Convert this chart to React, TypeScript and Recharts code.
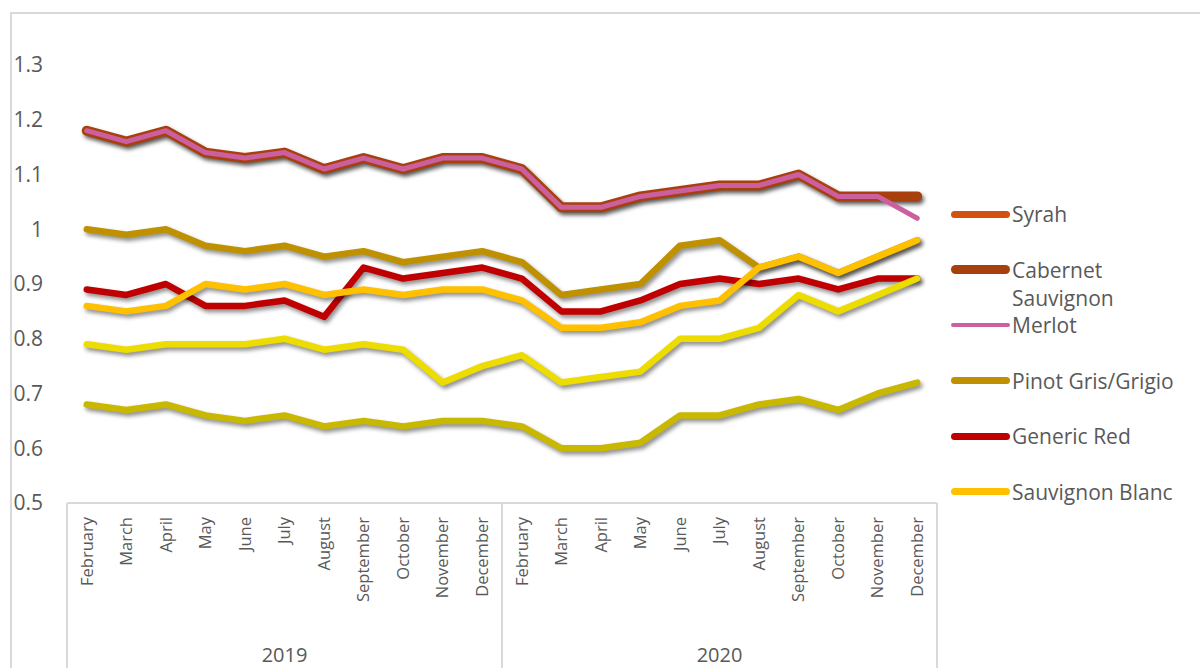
import React from "react";
import { LineChart, Line, XAxis, YAxis } from "recharts";

const months = ["February", "March", "April", "May", "June", "July", "August", "September", "October", "November", "December"];
const years = ["2019", "2020"];
const yTicks = [0.5, 0.6, 0.7, 0.8, 0.9, 1.0, 1.1, 1.2, 1.3];

// values per month, Feb 2019 .. Dec 2020
const syrah = [1.18, 1.16, 1.18, 1.14, 1.13, 1.14, 1.11, 1.13, 1.11, 1.13, 1.13, 1.11, 1.04, 1.04, 1.06, 1.07, 1.08, 1.08, 1.1, 1.06, 1.06, 1.06];
const cabernet = [1.18, 1.16, 1.18, 1.14, 1.13, 1.14, 1.11, 1.13, 1.11, 1.13, 1.13, 1.11, 1.04, 1.04, 1.06, 1.07, 1.08, 1.08, 1.1, 1.06, 1.06, 1.06];
const merlot = [1.18, 1.16, 1.18, 1.14, 1.13, 1.14, 1.11, 1.13, 1.11, 1.13, 1.13, 1.11, 1.04, 1.04, 1.06, 1.07, 1.08, 1.08, 1.1, 1.06, 1.06, 1.02];
const pinotGris = [1.0, 0.99, 1.0, 0.97, 0.96, 0.97, 0.95, 0.96, 0.94, 0.95, 0.96, 0.94, 0.88, 0.89, 0.9, 0.97, 0.98, 0.93, 0.95, 0.92, 0.95, 0.98];
const genericRed = [0.89, 0.88, 0.9, 0.86, 0.86, 0.87, 0.84, 0.93, 0.91, 0.92, 0.93, 0.91, 0.85, 0.85, 0.87, 0.9, 0.91, 0.9, 0.91, 0.89, 0.91, 0.91];
const sauvignonBlanc = [0.86, 0.85, 0.86, 0.9, 0.89, 0.9, 0.88, 0.89, 0.88, 0.89, 0.89, 0.87, 0.82, 0.82, 0.83, 0.86, 0.87, 0.93, 0.95, 0.92, 0.95, 0.98];
const brightYellow = [0.79, 0.78, 0.79, 0.79, 0.79, 0.8, 0.78, 0.79, 0.78, 0.72, 0.75, 0.77, 0.72, 0.73, 0.74, 0.8, 0.8, 0.82, 0.88, 0.85, 0.88, 0.91];
const olive = [0.68, 0.67, 0.68, 0.66, 0.65, 0.66, 0.64, 0.65, 0.64, 0.65, 0.65, 0.64, 0.6, 0.6, 0.61, 0.66, 0.66, 0.68, 0.69, 0.67, 0.7, 0.72];

const series = [
  { key: "syrah", name: "Syrah", values: syrah, color: "#D4500F", width: 6.5, legendWidth: 7, legend: true, shadow: true },
  { key: "cabernet", name: "Cabernet Sauvignon", values: cabernet, color: "#A8400E", width: 10, legendWidth: 9, legend: true, shadow: true },
  { key: "merlot", name: "Merlot", values: merlot, color: "#CC5FA0", width: 5, legendWidth: 4, legend: true, shadow: false },
  { key: "pinot", name: "Pinot Gris/Grigio", values: pinotGris, color: "#BF9000", width: 6.5, legendWidth: 7, legend: true, shadow: true },
  { key: "red", name: "Generic Red", values: genericRed, color: "#C00000", width: 6.5, legendWidth: 7, legend: true, shadow: true },
  { key: "sb", name: "Sauvignon Blanc", values: sauvignonBlanc, color: "#FFC000", width: 6.5, legendWidth: 7, legend: true, shadow: true },
  { key: "yellow", name: "", values: brightYellow, color: "#EDDC00", width: 6.5, legendWidth: 7, legend: false, shadow: true },
  { key: "olive", name: "", values: olive, color: "#C8B800", width: 6.5, legendWidth: 7, legend: false, shadow: true },
];

const data = years.flatMap((year, yi) =>
  months.map((month, mi) => {
    const i = yi * months.length + mi;
    const row: any = { key: `${month} ${year}`, month, year };
    series.forEach((s) => (row[s.key] = s.values[i]));
    return row;
  })
);

const TEXT = "#595959";
const GRID = "#D9D9D9";

const CHART_W = 1200;
const CHART_H = 668;
const MARGIN = { top: 65, right: 263, bottom: 0, left: 10 };
const Y_W = 57;
const X_H = 165;
const PLOT_W = CHART_W - MARGIN.left - MARGIN.right - Y_W;
const HALF_BAND = PLOT_W / data.length / 2;

function MonthTick(props: any) {
  const { x, y, index } = props;
  const row = data[index] || { month: "", year: "" };
  const mi = index % months.length;
  const last = index === data.length - 1;
  return (
    <g>
      <text
        x={x}
        y={y + 14}
        dy="0.35em"
        transform={`rotate(-90, ${x}, ${y + 14})`}
        textAnchor="end"
        fill={TEXT}
        fontSize={16.5}
      >
        {row.month}
      </text>
      {mi === 0 && <line x1={x - HALF_BAND} x2={x - HALF_BAND} y1={y} y2={y + 170} stroke={GRID} strokeWidth={2} />}
      {last && <line x1={x + HALF_BAND} x2={x + HALF_BAND} y1={y} y2={y + 170} stroke={GRID} strokeWidth={2} />}
      {mi === 5 && (
        <text x={x} y={y + 159} textAnchor="middle" fill={TEXT} fontSize={20}>
          {row.year}
        </text>
      )}
    </g>
  );
}

export default function App() {
  return (
    <div
      style={{
        position: "absolute",
        left: 0,
        top: 0,
        width: CHART_W,
        height: CHART_H,
        overflow: "hidden",
        background: "#fff",
        fontFamily: "'Open Sans', sans-serif",
      }}
    >
      <style>{`.line-shadow { filter: drop-shadow(2px 3px 2px rgba(0,0,0,0.45)); }`}</style>
      <div
        style={{
          position: "absolute",
          left: 10,
          top: 12,
          width: 1300,
          height: 800,
          border: `2px solid ${GRID}`,
        }}
      />
      <div style={{ position: "absolute", left: 0, top: 0 }}>
        <LineChart width={CHART_W} height={CHART_H} data={data} margin={MARGIN}>
          <XAxis
            dataKey="key"
            interval={0}
            height={X_H}
            padding={{ left: HALF_BAND, right: HALF_BAND }}
            tickLine={false}
            axisLine={{ stroke: GRID, strokeWidth: 2 }}
            tick={(p: any) => <MonthTick {...p} y={CHART_H - MARGIN.bottom - X_H} />}
          />
          <YAxis
            type="number"
            domain={[0.5, 1.3]}
            ticks={yTicks}
            width={Y_W}
            axisLine={false}
            tickLine={false}
            tickSize={0}
            tickMargin={24}
            tick={{ fill: TEXT, fontSize: 21 }}
            tickFormatter={(v: number) => String(Number(v.toFixed(1)))}
          />
          {series.map((s) => (
            <Line
              key={s.key}
              dataKey={s.key}
              name={s.name}
              type="linear"
              stroke={s.color}
              strokeWidth={s.width}
              strokeLinecap="round"
              strokeLinejoin="round"
              dot={false}
              activeDot={false}
              className={s.shadow ? "line-shadow" : undefined}
              isAnimationActive={false}
            />
          ))}
        </LineChart>
      </div>
      <div style={{ position: "absolute", left: 951, top: 200 }}>
        {series
          .filter((s) => s.legend)
          .map((s) => (
            <div key={s.key} style={{ position: "relative", height: 55.6 }}>
              <div
                style={{
                  position: "absolute",
                  left: 0,
                  top: 14 - s.legendWidth / 2,
                  width: 59,
                  height: s.legendWidth,
                  borderRadius: s.legendWidth / 2,
                  background: s.color,
                }}
              />
              <div
                style={{
                  position: "absolute",
                  left: 61,
                  top: 0,
                  width: 186,
                  fontSize: 21,
                  lineHeight: "28px",
                  color: TEXT,
                }}
              >
                {s.name}
              </div>
            </div>
          ))}
      </div>
    </div>
  );
}
